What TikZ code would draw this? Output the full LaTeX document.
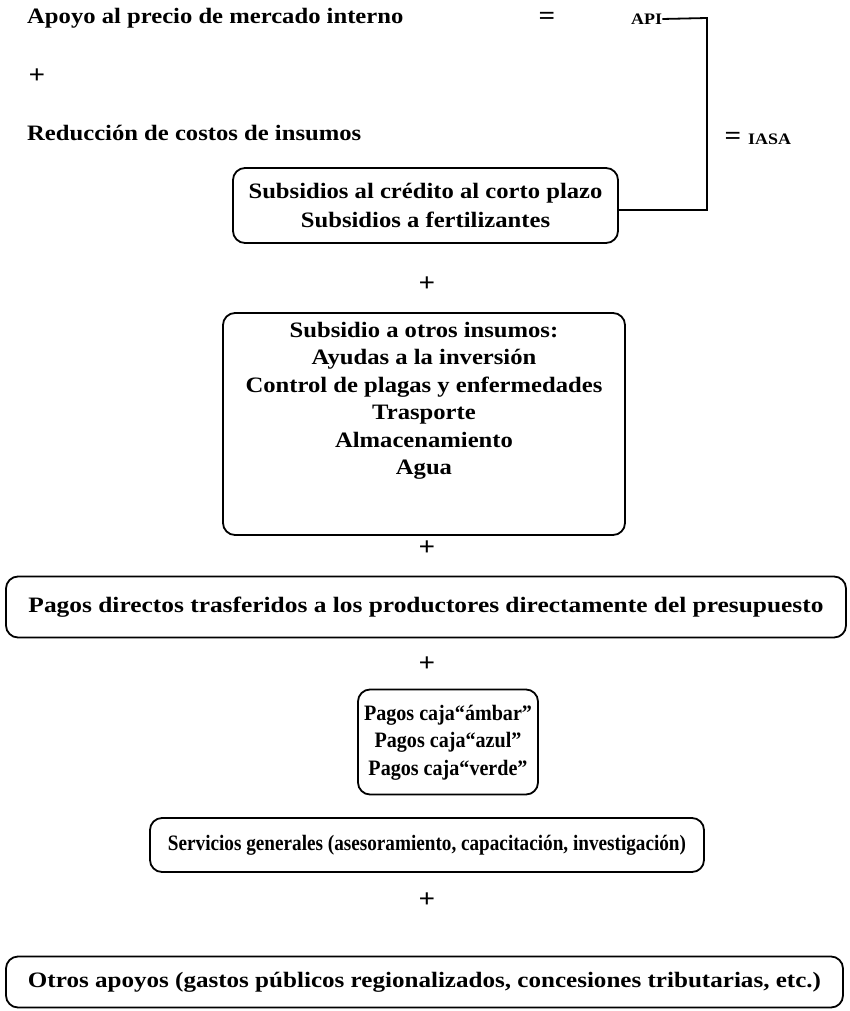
\documentclass[tikz,border=0pt]{standalone}
\usepackage{fontspec}
\usepackage{graphicx}
\setmainfont{Liberation Serif}[FakeStretch=1.12]
\newcommand{\hfit}[2]{\resizebox{#1}{\height}{#2}}
\begin{document}
\begin{tikzpicture}[x=1pt,y=-1pt,
  font=\bfseries\fontsize{22}{27.5}\selectfont,
  box/.style={draw, line width=1.8pt, rounded corners=12pt, inner sep=0pt, align=center},
  lbl/.style={inner sep=0pt, anchor=west},
  plus/.style={inner sep=0pt, font=\bfseries\fontsize{26}{28}\selectfont},
  sc/.style={inner sep=0pt, font=\bfseries\fontsize{16}{18}\selectfont},
  conn/.style={line width=1.8pt}]
\useasboundingbox (0,0) rectangle (849,1011);

\node[lbl] (t1) at (27,18) {Apoyo al precio de mercado interno};
\node[plus] (eq1) at (547,18) {=};
\node[sc, anchor=west] (api) at (631,19) {API};
\node[plus] (p0) at (37,76) {+};
\node[lbl] (t2) at (27,133) {Reducción de costos de insumos};
\node[plus] (eq2) at (733,138) {=};
\node[sc, anchor=west] (iasa) at (748,139) {IASA};

\node[box, minimum width=385pt, minimum height=75pt] (b1) at (425.5,205.5)
  {Subsidios al crédito al corto plazo\\[2pt]Subsidios a fertilizantes};
\coordinate (corner) at (707,18);
\coordinate (b1r) at (618,210);
\draw[conn] (api.east) -- (corner) -- (corner |- b1r) -- (b1r);

\node[plus] (p1) at (427,284) {+};
\node[box, minimum width=402pt, minimum height=222pt] (b2) at (424,424) {};
\node[inner sep=0pt, align=center] (b2t) at (424,401)
  {Subsidio a otros insumos:\\Ayudas a la inversión\\Control de plagas y enfermedades\\Trasporte\\Almacenamiento\\Agua};
\node[plus] (p2) at (427,548) {+};
\node[box, minimum width=840pt, minimum height=61pt] (b3) at (426,607)
  {\hfit{795pt}{Pagos directos trasferidos a los productores directamente del presupuesto}};
\node[plus] (p3) at (427,664) {+};
\node[box, minimum width=180pt, minimum height=105pt] (b4) at (448,742)
  {\hfit{168pt}{\begin{tabular}{@{}c@{}}Pagos caja``ámbar''\\Pagos caja``azul''\\Pagos caja``verde''\end{tabular}}};
\node[box, minimum width=554pt, minimum height=54pt] (b5) at (427,845)
  {\hfit{518pt}{Servicios generales (asesoramiento, capacitación, investigación)}};
\node[plus] (p4) at (427,900) {+};
\node[box, minimum width=837pt, minimum height=51pt] (b6) at (424.5,982)
  {\hfit{793pt}{Otros apoyos (gastos públicos regionalizados, concesiones tributarias, etc.)}};
\end{tikzpicture}
\end{document}
